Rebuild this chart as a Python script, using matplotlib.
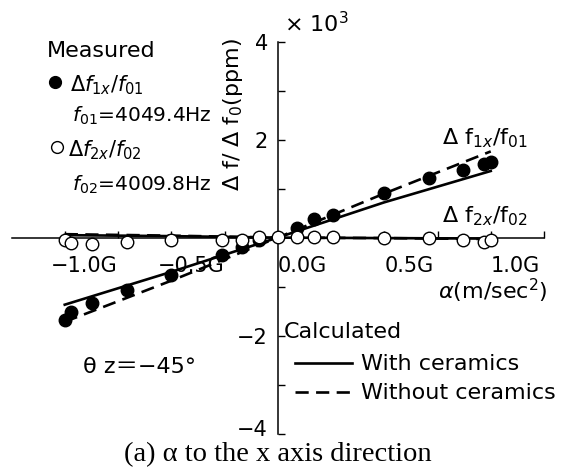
import matplotlib
matplotlib.use("Agg")
import matplotlib.pyplot as plt
import matplotlib.transforms as mtransforms
import numpy as np

plt.rcParams['font.family'] = ['DejaVu Sans', 'Noto Sans CJK JP']
plt.rcParams['mathtext.fontset'] = 'dejavusans'

# measured data (x in G, y in x10^3 ppm)
acc_f1 = [-1.00, -0.97, -0.87, -0.71, -0.50, -0.26, -0.17, -0.09,
          0.09, 0.17, 0.26, 0.50, 0.71, 0.87, 0.97, 1.00]
df1 = [-1.68, -1.51, -1.33, -1.08, -0.76, -0.35, -0.20, -0.04,
       0.20, 0.37, 0.47, 0.92, 1.21, 1.39, 1.51, 1.55]

acc_f2 = [-1.00, -0.97, -0.87, -0.71, -0.50, -0.26, -0.17, -0.09, 0.00,
          0.09, 0.17, 0.26, 0.50, 0.71, 0.87, 0.97, 1.00]
df2 = [-0.04, -0.12, -0.14, -0.10, -0.04, -0.04, -0.04, 0.02, 0.02,
       0.02, 0.02, 0.02, 0.00, 0.00, -0.04, -0.10, -0.04]

# calculated curves
calc_x = [-1.0, -0.5, 0.0, 0.5, 1.0]
with_f1 = [-1.37, -0.70, 0.0, 0.72, 1.36]
without_f1 = [-1.72, -0.88, 0.0, 0.90, 1.76]
with_f2 = [0.05, 0.03, 0.0, -0.01, -0.02]
without_f2 = [0.07, 0.04, 0.0, -0.01, -0.03]

xtick_pos = [-1.0, -0.5, 0.0, 0.5, 1.0]
xtick_lab = ["\u22121.0G", "\u22120.5G", "0.0G", "0.5G", "1.0G"]
ytick_pos = [-4, -2, 2, 4]
ytick_lab = ["\u22124", "\u22122", "2", "4"]

W, H = 563, 471
fig = plt.figure(figsize=(W / 100, H / 100), dpi=100)
ax = fig.add_axes([11.5 / W, (H - 433.5) / H, (544 - 11.5) / W, (433.5 - 41.7) / H])

def px(x, y):
    return x / W, 1 - y / H

ax.plot(calc_x, with_f1, color='black', lw=1.9)
ax.plot(calc_x, without_f1, color='black', lw=1.9, linestyle=(0, (5, 2.8)))
ax.plot(calc_x, with_f2, color='black', lw=1.9)
ax.plot(calc_x, without_f2, color='black', lw=1.9, linestyle=(0, (5, 2.8)))
ax.plot(acc_f1, df1, 'o', color='black', markersize=9, zorder=3)
ax.plot(acc_f2, df2, 'o', markerfacecolor='white', markeredgecolor='black',
        markeredgewidth=1.0, markersize=9, zorder=4)

ax.set_xlim(-1.25, 1.25)
ax.set_ylim(-4, 4)
ax.spines['left'].set_position('zero')
ax.spines['bottom'].set_position('zero')
ax.spines['right'].set_visible(False)
ax.spines['top'].set_visible(False)
for s in ['left', 'bottom']:
    ax.spines[s].set_linewidth(1.1)

ax.set_xticks(xtick_pos)
ax.set_xticklabels(xtick_lab, ha='left')
ax.set_xticks([-0.75, -0.25, 0.25, 0.75, 1.25], minor=True)
ax.set_yticks(ytick_pos)
ax.set_yticklabels(ytick_lab)
ax.set_yticks([-3, -1, 1, 3], minor=True)
ax.tick_params(which='both', direction='in', length=5, width=1.0)
ax.tick_params(axis='x', labelsize=15, pad=13)
ax.tick_params(axis='y', labelsize=15, pad=7)
ax.patch.set_visible(False)

# negative x labels start a bit further left, "-4" sits a little higher
shift_left = mtransforms.ScaledTranslation(-10 / 72, 0, fig.dpi_scale_trans)
for lab in ax.get_xticklabels():
    if lab.get_text().startswith("\u2212"):
        lab.set_transform(lab.get_transform() + shift_left)
shift_up = mtransforms.ScaledTranslation(0, 4 / 72, fig.dpi_scale_trans)
ylabs = ax.get_yticklabels()
ylabs[0].set_transform(ylabs[0].get_transform() + shift_up)

# axis titles
fig.text(*px(233, 115), "\u0394 f/ \u0394 f$_0$(ppm)", rotation=90,
         fontsize=16, ha='center', va='center')
fig.text(*px(284, 24), "\u00d7 10$^3$", fontsize=16, ha='left', va='center')
fig.text(*px(438, 291), "$\\alpha$(m/sec$^2$)", fontsize=16, ha='left', va='center')

# curve labels
fig.text(*px(442, 138), "\u0394 f$_{1x}$/f$_{01}$", fontsize=16, ha='left', va='center')
fig.text(*px(442, 216), "\u0394 f$_{2x}$/f$_{02}$", fontsize=16, ha='left', va='center')

# measured legend
fig.text(*px(47, 51), "Measured", fontsize=16, ha='left', va='center')
fig.add_artist(plt.Line2D([55 / W], [1 - 82 / H], marker='o', color='black',
                          markersize=8.5, transform=fig.transFigure))
fig.text(*px(70, 85), "$\\mathit{\\Delta f}_{1x}/\\mathit{f}_{01}$", fontsize=15,
         ha='left', va='center')
fig.text(*px(72, 116), "$\\mathit{f}_{01}$=4049.4Hz", fontsize=14.5, ha='left', va='center')
fig.add_artist(plt.Line2D([57 / W], [1 - 147 / H], marker='o', markerfacecolor='white',
                          markeredgecolor='black', markersize=8.5,
                          transform=fig.transFigure))
fig.text(*px(68, 150), "$\\mathit{\\Delta f}_{2x}/\\mathit{f}_{02}$", fontsize=15,
         ha='left', va='center')
fig.text(*px(72, 185), "$\\mathit{f}_{02}$=4009.8Hz", fontsize=14.5, ha='left', va='center')

# calculated legend
fig.text(*px(284, 332), "Calculated", fontsize=16, ha='left', va='center')
fig.add_artist(plt.Line2D([295 / W, 352 / W], [1 - 363 / H] * 2, color='black', lw=1.9,
                          transform=fig.transFigure))
fig.text(*px(361, 364), "With ceramics", fontsize=16, ha='left', va='center')
fig.add_artist(plt.Line2D([295 / W, 352 / W], [1 - 392 / H] * 2, color='black', lw=1.9,
                          linestyle=(0, (5, 2.8)), transform=fig.transFigure))
fig.text(*px(361, 393), "Without ceramics", fontsize=16, ha='left', va='center')

fig.text(*px(83, 367), "\u03b8 z\uff1d\u221245\u00b0", fontsize=16, ha='left', va='center')

fig.text(*px(278, 455), "(a) \u03b1 to the x axis direction", family='Liberation Serif',
         fontsize=20.5, ha='center', va='center')

fig.savefig("out.png", dpi=100)
